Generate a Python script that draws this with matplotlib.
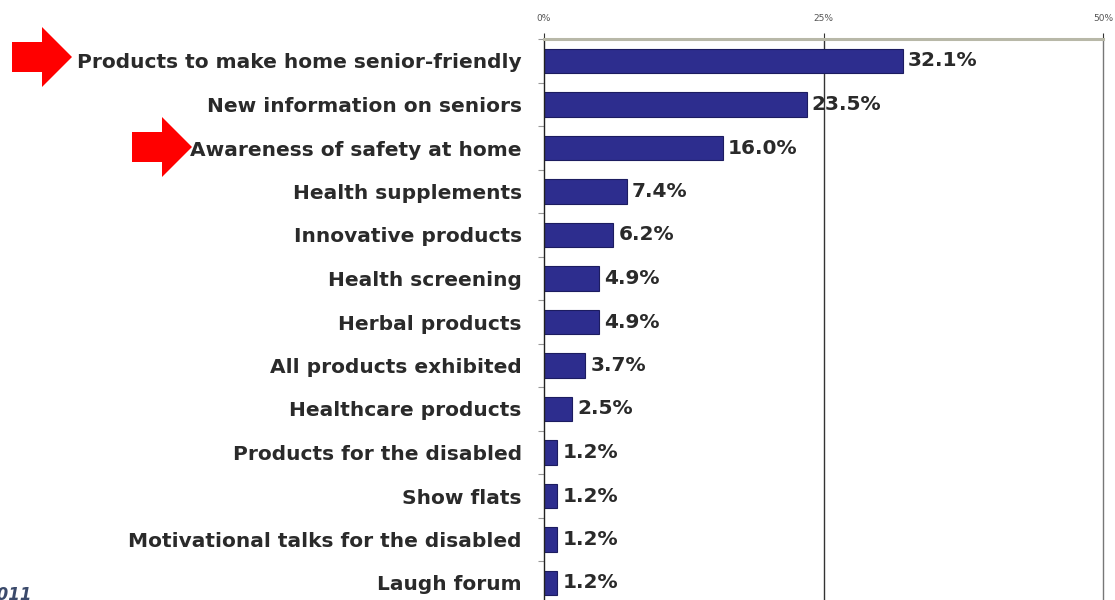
import matplotlib
matplotlib.use("Agg")
import matplotlib.pyplot as plt
from matplotlib.patches import Polygon
from matplotlib.ticker import FixedLocator

categories = [
    "Products to make home senior-friendly",
    "New information on seniors",
    "Awareness of safety at home",
    "Health supplements",
    "Innovative products",
    "Health screening",
    "Herbal products",
    "All products exhibited",
    "Healthcare products",
    "Products for the disabled",
    "Show flats",
    "Motivational talks for the disabled",
    "Laugh forum",
]
values = [32.1, 23.5, 16.0, 7.4, 6.2, 4.9, 4.9, 3.7, 2.5, 1.2, 1.2, 1.2, 1.2]
x_ticks = [0, 25, 50]
x_tick_labels = ["0%", "25%", "50%"]

W, H = 1115, 600
plt.rcParams["font.family"] = ["DejaVu Sans"]

fig = plt.figure(figsize=(W / 100, H / 100), dpi=100)
fig.patch.set_facecolor("white")
ax = fig.add_axes([544 / W, 1 - 604.75 / H, (1103 - 544) / W, (604.75 - 39.25) / H])

ypos = list(range(len(categories)))
ax.barh(ypos, values, height=0.57, color="#2d2d8e", edgecolor="#1c1c60", linewidth=0.8)
ax.set_xlim(0, 50)
ax.set_ylim(len(categories) - 0.5, -0.5)

ax.set_yticks(ypos)
ax.set_yticklabels(categories, fontsize=14.5, fontweight="bold", color="#2a2a2a")
ax.tick_params(axis="y", length=0, pad=16)
ax.yaxis.set_minor_locator(FixedLocator([i + 0.5 for i in range(-1, len(categories))]))
ax.tick_params(axis="y", which="minor", length=4, color="#999999", width=0.8)

ax.xaxis.tick_top()
ax.set_xticks(x_ticks)
ax.set_xticklabels(x_tick_labels, fontsize=6.5, color="#555555")
ax.tick_params(axis="x", length=4, color="#333333", width=0.8, pad=8)

ax.axvline(25, color="#333333", linewidth=1.0, zorder=0)
ax.spines["top"].set_color("#b8b8a8")
ax.spines["top"].set_linewidth(2.2)
ax.spines["left"].set_color("#222222")
ax.spines["left"].set_linewidth(1.0)
ax.spines["right"].set_color("#777777")
ax.spines["right"].set_linewidth(1.0)
ax.spines["bottom"].set_visible(False)

for y, v in zip(ypos, values):
    ax.text(v + 0.45, y, f"{v:.1f}%", va="center", ha="left", fontsize=14.5,
            fontweight="bold", color="#2a2a2a")


def arrow(tail_x, tip_x, cy, head_len=30, head_h=60, shaft_h=30):
    hx = tip_x - head_len
    pts = [
        (tail_x, cy - shaft_h / 2), (hx, cy - shaft_h / 2), (hx, cy - head_h / 2),
        (tip_x, cy), (hx, cy + head_h / 2), (hx, cy + shaft_h / 2), (tail_x, cy + shaft_h / 2),
    ]
    pts = [(x / W, 1 - y / H) for x, y in pts]
    fig.patches.append(Polygon(pts, closed=True, transform=fig.transFigure,
                               facecolor="#ff0000", edgecolor="none"))


arrow(12, 72, 57)
arrow(132, 192, 147)

fig.text(32 / W, 1 - 586 / H, "2011", ha="right", va="top", fontsize=12,
         style="italic", fontweight="bold", color="#3b4a6b")

fig.savefig("out.png", dpi=100)
